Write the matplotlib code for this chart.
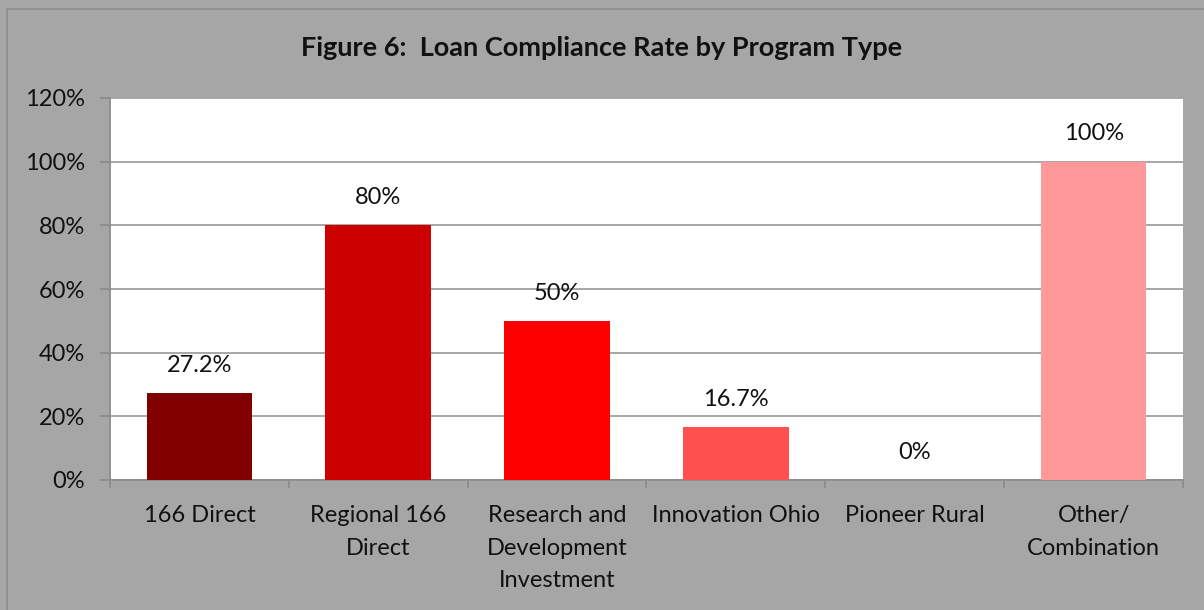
import numpy as np
import matplotlib.pyplot as plt
from matplotlib.patches import Rectangle

# data
categories = ['166 Direct', 'Regional 166\nDirect', 'Research and\nDevelopment\nInvestment',
              'Innovation Ohio', 'Pioneer Rural', 'Other/\nCombination']
rates = [27.2, 80, 50, 16.7, 0, 100]
labels = ['27.2%', '80%', '50%', '16.7%', '0%', '100%']
colors = ['#800000', '#CC0000', '#FF0000', '#FF5050', '#FF7C80', '#FF9999']
yticks = [0, 20, 40, 60, 80, 100, 120]

plt.rcParams['font.family'] = ['Lato', 'DejaVu Sans']
W, H = 1204, 610
fig = plt.figure(figsize=(W / 100, H / 100), dpi=100, facecolor='#A6A6A6')

# outer chart border (runs off the right and bottom edges)
fig.patches.append(Rectangle((7 / W, -0.1), 1.2, 1 - 9 / H + 0.1, transform=fig.transFigure,
                             fill=False, edgecolor='#8C8C8C', lw=1.2))

ax = fig.add_axes([110 / W, 1 - 480 / H, (1183 - 110) / W, (480 - 98) / H])
ax.set_facecolor('white')

fs = 17
x = np.arange(len(categories))
ax.bar(x, rates, width=0.59, color=colors, zorder=3)
for xi, v, lab in zip(x, rates, labels):
    ax.annotate(lab, (xi, v), xytext=(0, 20), textcoords='offset points',
                ha='center', va='center', fontsize=fs, color='#111111')

ax.set_xlim(-0.5, len(categories) - 0.5)
ax.set_ylim(0, 120)
ax.set_yticks(yticks)
ax.set_yticklabels([f'{t}%' for t in yticks], fontsize=fs, color='#111111')
ax.yaxis.grid(True, color='#A0A0A0', lw=1.3, zorder=0)
ax.tick_params(axis='y', length=7, width=1.3, color='#8C8C8C', pad=11)

ax.set_xticks(x)
ax.set_xticklabels(categories, fontsize=fs, color='#111111', linespacing=1.68, va='top')
ax.tick_params(axis='x', length=0, pad=18)
ax.set_xticks(np.arange(-0.5, len(categories)), minor=True)
ax.tick_params(axis='x', which='minor', length=6, width=1.3, color='#8C8C8C')

for side in ['top', 'right']:
    ax.spines[side].set_visible(False)
for side in ['left', 'bottom']:
    ax.spines[side].set_color('#8C8C8C')
    ax.spines[side].set_linewidth(1.3)

fig.text(0.5, 1 - 48 / H, 'Figure 6:  Loan Compliance Rate by Program Type',
         ha='center', va='center', fontsize=19.5, fontweight='bold', color='#111111')

fig.savefig('out.png', dpi=100, facecolor=fig.get_facecolor())
